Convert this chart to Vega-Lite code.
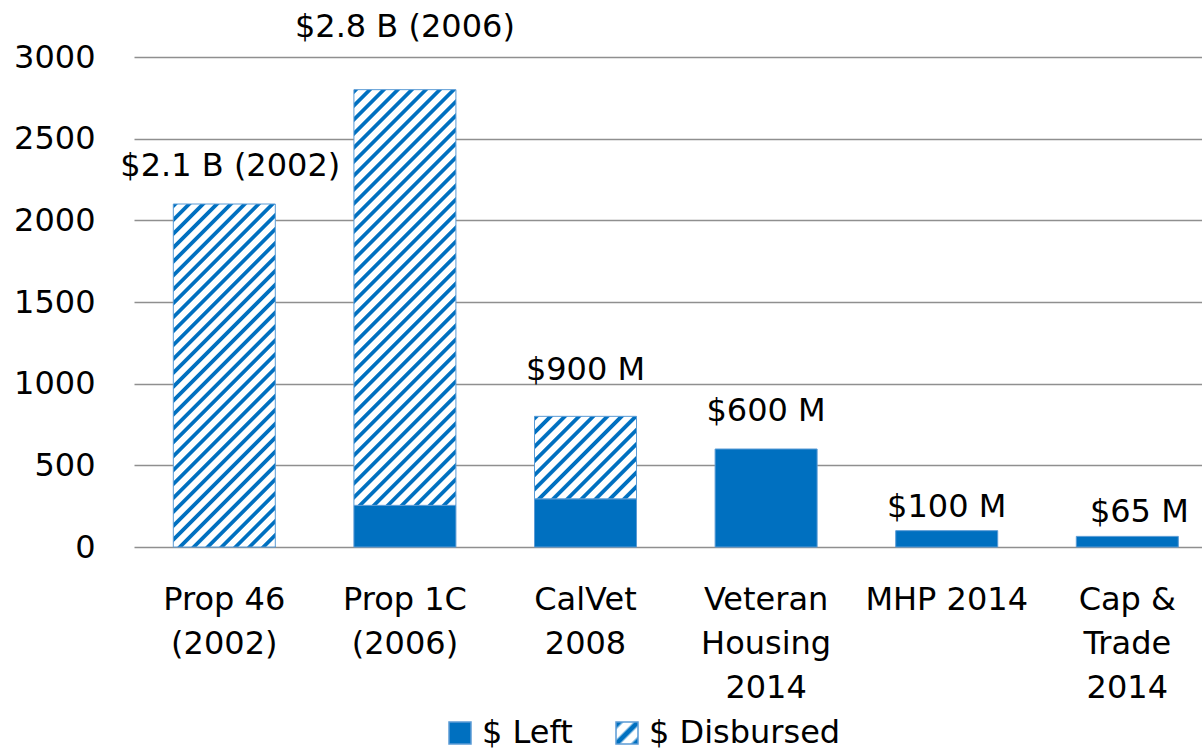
{
  "$schema": "https://vega.github.io/schema/vega-lite/v6.json",
  "width": 1068,
  "height": 490,
  "autosize": {"type": "none"},
  "padding": {"left": 134, "top": 57, "right": 0, "bottom": 205},
  "background": "white",
  "config": {
    "view": {"stroke": null},
    "font": "DejaVu Sans",
    "axisX": {"domain": false, "ticks": false, "grid": false, "labelFontSize": 32, "labelColor": "#000000", "labelFont": "DejaVu Sans", "labelPadding": 37, "labelLineHeight": 44, "labelAngle": 0, "labelLimit": 0},
    "axisY": {"domain": false, "ticks": false, "grid": true, "gridColor": "#8f8f8f", "gridWidth": 1.5, "labelFontSize": 32, "labelColor": "#000000", "labelFont": "DejaVu Sans", "labelPadding": 39},
    "legend": {"orient": "none", "legendX": 310, "legendY": 660, "direction": "horizontal", "padding": 0, "symbolType": "square", "symbolSize": 484, "symbolStrokeWidth": 1.5, "symbolStrokeColor": "#5B9BD5", "labelFontSize": 32, "labelFont": "DejaVu Sans", "labelColor": "#000000", "labelOffset": 6, "columnPadding": 38, "labelLimit": 0}
  },
  "datasets": {
    "bars": [
      {"program": "Prop 46|(2002)", "type": "$ Disbursed", "value": 2100},
      {"program": "Prop 1C|(2006)", "type": "$ Left", "value": 255},
      {"program": "Prop 1C|(2006)", "type": "$ Disbursed", "value": 2545},
      {"program": "CalVet|2008", "type": "$ Left", "value": 295},
      {"program": "CalVet|2008", "type": "$ Disbursed", "value": 505},
      {"program": "Veteran|Housing|2014", "type": "$ Left", "value": 600},
      {"program": "MHP 2014", "type": "$ Left", "value": 100},
      {"program": "Cap &|Trade|2014", "type": "$ Left", "value": 65}
    ],
    "labels": [
      {"program": "Prop 46|(2002)", "total": 2100, "label": "$2.1 B (2002)"},
      {"program": "Prop 1C|(2006)", "total": 2800, "label": "$2.8 B (2006)"},
      {"program": "CalVet|2008", "total": 800, "label": "$900 M"},
      {"program": "Veteran|Housing|2014", "total": 600, "label": "$600 M"},
      {"program": "MHP 2014", "total": 100, "label": "$100 M"},
      {"program": "Cap &|Trade|2014", "total": 65, "label": "$65 M"}
    ]
  },
  "layer": [
    {
      "data": {"name": "bars"},
      "mark": {"type": "bar", "stroke": "#5B9BD5", "strokeWidth": 1},
      "encoding": {
        "x": {"field": "program", "type": "nominal", "title": null,
          "sort": ["Prop 46|(2002)", "Prop 1C|(2006)", "CalVet|2008", "Veteran|Housing|2014", "MHP 2014", "Cap &|Trade|2014"],
          "scale": {"paddingInner": 0.4352, "paddingOuter": 0.1744, "align": 0.624},
          "axis": {"labelExpr": "split(datum.label, '|')"}},
        "y": {"field": "value", "type": "quantitative", "stack": "zero", "title": null,
          "scale": {"domain": [0, 3000], "nice": false},
          "axis": {"values": [0, 500, 1000, 1500, 2000, 2500, 3000], "format": "d"}},
        "order": {"field": "type", "sort": "descending"},
        "fill": {
          "field": "type", "type": "nominal",
          "scale": {"domain": ["$ Left", "$ Disbursed"], "range": ["#0070C0", {"expr": "{gradient: 'linear', x1: 0, y1: 0, x2: 1, y2: 1, stops: [{offset: 0, color: '#0070C0'}, {offset: 0.12, color: '#0070C0'}, {offset: 0.2, color: '#ffffff'}, {offset: 0.38, color: '#ffffff'}, {offset: 0.45, color: '#0070C0'}, {offset: 0.55, color: '#0070C0'}, {offset: 0.62, color: '#ffffff'}, {offset: 0.8, color: '#ffffff'}, {offset: 0.88, color: '#0070C0'}, {offset: 1, color: '#0070C0'}]}"}]},
          "legend": {"title": null},
          "condition": [
            {"test": "datum.type === '$ Disbursed' && datum.program === 'Prop 46|(2002)'",
             "value": {"gradient": "linear", "x1": 0, "y1": 0, "x2": 0.35446, "y2": 1.19197, "stops": [
              {"offset":0,"color":"#0070C0"},{"offset":0.00875,"color":"#0070C0"},{"offset":0.01188,"color":"#ffffff"},{"offset":0.02813,"color":"#ffffff"},
              {"offset":0.03125,"color":"#0070C0"},{"offset":0.04,"color":"#0070C0"},{"offset":0.04313,"color":"#ffffff"},{"offset":0.05938,"color":"#ffffff"},
              {"offset":0.0625,"color":"#0070C0"},{"offset":0.07125,"color":"#0070C0"},{"offset":0.07438,"color":"#ffffff"},{"offset":0.09063,"color":"#ffffff"},
              {"offset":0.09375,"color":"#0070C0"},{"offset":0.1025,"color":"#0070C0"},{"offset":0.10563,"color":"#ffffff"},{"offset":0.12188,"color":"#ffffff"},
              {"offset":0.125,"color":"#0070C0"},{"offset":0.13375,"color":"#0070C0"},{"offset":0.13688,"color":"#ffffff"},{"offset":0.15313,"color":"#ffffff"},
              {"offset":0.15625,"color":"#0070C0"},{"offset":0.165,"color":"#0070C0"},{"offset":0.16813,"color":"#ffffff"},{"offset":0.18438,"color":"#ffffff"},
              {"offset":0.1875,"color":"#0070C0"},{"offset":0.19625,"color":"#0070C0"},{"offset":0.19938,"color":"#ffffff"},{"offset":0.21563,"color":"#ffffff"},
              {"offset":0.21875,"color":"#0070C0"},{"offset":0.2275,"color":"#0070C0"},{"offset":0.23063,"color":"#ffffff"},{"offset":0.24688,"color":"#ffffff"},
              {"offset":0.25,"color":"#0070C0"},{"offset":0.25875,"color":"#0070C0"},{"offset":0.26188,"color":"#ffffff"},{"offset":0.27813,"color":"#ffffff"},
              {"offset":0.28125,"color":"#0070C0"},{"offset":0.29,"color":"#0070C0"},{"offset":0.29313,"color":"#ffffff"},{"offset":0.30938,"color":"#ffffff"},
              {"offset":0.3125,"color":"#0070C0"},{"offset":0.32125,"color":"#0070C0"},{"offset":0.32438,"color":"#ffffff"},{"offset":0.34063,"color":"#ffffff"},
              {"offset":0.34375,"color":"#0070C0"},{"offset":0.3525,"color":"#0070C0"},{"offset":0.35563,"color":"#ffffff"},{"offset":0.37188,"color":"#ffffff"},
              {"offset":0.375,"color":"#0070C0"},{"offset":0.38375,"color":"#0070C0"},{"offset":0.38688,"color":"#ffffff"},{"offset":0.40313,"color":"#ffffff"},
              {"offset":0.40625,"color":"#0070C0"},{"offset":0.415,"color":"#0070C0"},{"offset":0.41813,"color":"#ffffff"},{"offset":0.43438,"color":"#ffffff"},
              {"offset":0.4375,"color":"#0070C0"},{"offset":0.44625,"color":"#0070C0"},{"offset":0.44938,"color":"#ffffff"},{"offset":0.46563,"color":"#ffffff"},
              {"offset":0.46875,"color":"#0070C0"},{"offset":0.4775,"color":"#0070C0"},{"offset":0.48063,"color":"#ffffff"},{"offset":0.49688,"color":"#ffffff"},
              {"offset":0.5,"color":"#0070C0"},{"offset":0.50875,"color":"#0070C0"},{"offset":0.51188,"color":"#ffffff"},{"offset":0.52813,"color":"#ffffff"},
              {"offset":0.53125,"color":"#0070C0"},{"offset":0.54,"color":"#0070C0"},{"offset":0.54313,"color":"#ffffff"},{"offset":0.55938,"color":"#ffffff"},
              {"offset":0.5625,"color":"#0070C0"},{"offset":0.57125,"color":"#0070C0"},{"offset":0.57438,"color":"#ffffff"},{"offset":0.59063,"color":"#ffffff"},
              {"offset":0.59375,"color":"#0070C0"},{"offset":0.6025,"color":"#0070C0"},{"offset":0.60563,"color":"#ffffff"},{"offset":0.62188,"color":"#ffffff"},
              {"offset":0.625,"color":"#0070C0"},{"offset":0.63375,"color":"#0070C0"},{"offset":0.63688,"color":"#ffffff"},{"offset":0.65313,"color":"#ffffff"},
              {"offset":0.65625,"color":"#0070C0"},{"offset":0.665,"color":"#0070C0"},{"offset":0.66813,"color":"#ffffff"},{"offset":0.68438,"color":"#ffffff"},
              {"offset":0.6875,"color":"#0070C0"},{"offset":0.69625,"color":"#0070C0"},{"offset":0.69938,"color":"#ffffff"},{"offset":0.71563,"color":"#ffffff"},
              {"offset":0.71875,"color":"#0070C0"},{"offset":0.7275,"color":"#0070C0"},{"offset":0.73063,"color":"#ffffff"},{"offset":0.74688,"color":"#ffffff"},
              {"offset":0.75,"color":"#0070C0"},{"offset":0.75875,"color":"#0070C0"},{"offset":0.76188,"color":"#ffffff"},{"offset":0.77813,"color":"#ffffff"},
              {"offset":0.78125,"color":"#0070C0"},{"offset":0.79,"color":"#0070C0"},{"offset":0.79313,"color":"#ffffff"},{"offset":0.80938,"color":"#ffffff"},
              {"offset":0.8125,"color":"#0070C0"},{"offset":0.82125,"color":"#0070C0"},{"offset":0.82438,"color":"#ffffff"},{"offset":0.84063,"color":"#ffffff"},
              {"offset":0.84375,"color":"#0070C0"},{"offset":0.8525,"color":"#0070C0"},{"offset":0.85563,"color":"#ffffff"},{"offset":0.87188,"color":"#ffffff"},
              {"offset":0.875,"color":"#0070C0"},{"offset":0.88375,"color":"#0070C0"},{"offset":0.88688,"color":"#ffffff"},{"offset":0.90313,"color":"#ffffff"},
              {"offset":0.90625,"color":"#0070C0"},{"offset":0.915,"color":"#0070C0"},{"offset":0.91813,"color":"#ffffff"},{"offset":0.93438,"color":"#ffffff"},
              {"offset":0.9375,"color":"#0070C0"},{"offset":0.94625,"color":"#0070C0"},{"offset":0.94938,"color":"#ffffff"},{"offset":0.96563,"color":"#ffffff"},
              {"offset":0.96875,"color":"#0070C0"},{"offset":0.9775,"color":"#0070C0"},{"offset":0.98063,"color":"#ffffff"},{"offset":0.99688,"color":"#ffffff"},
              {"offset":1,"color":"#0070C0"}]}},
            {"test": "datum.type === '$ Disbursed' && datum.program === 'Prop 1C|(2006)'",
             "value": {"gradient": "linear", "x1": 0, "y1": 0, "x2": 0.28822, "y2": 1.17465, "stops": [
              {"offset":0,"color":"#0070C0"},{"offset":0.00757,"color":"#0070C0"},{"offset":0.01027,"color":"#ffffff"},{"offset":0.02432,"color":"#ffffff"},
              {"offset":0.02703,"color":"#0070C0"},{"offset":0.0346,"color":"#0070C0"},{"offset":0.0373,"color":"#ffffff"},{"offset":0.05135,"color":"#ffffff"},
              {"offset":0.05405,"color":"#0070C0"},{"offset":0.06162,"color":"#0070C0"},{"offset":0.06432,"color":"#ffffff"},{"offset":0.07837,"color":"#ffffff"},
              {"offset":0.08108,"color":"#0070C0"},{"offset":0.08865,"color":"#0070C0"},{"offset":0.09135,"color":"#ffffff"},{"offset":0.1054,"color":"#ffffff"},
              {"offset":0.10811,"color":"#0070C0"},{"offset":0.11568,"color":"#0070C0"},{"offset":0.11838,"color":"#ffffff"},{"offset":0.13243,"color":"#ffffff"},
              {"offset":0.13514,"color":"#0070C0"},{"offset":0.14271,"color":"#0070C0"},{"offset":0.14541,"color":"#ffffff"},{"offset":0.15946,"color":"#ffffff"},
              {"offset":0.16216,"color":"#0070C0"},{"offset":0.16973,"color":"#0070C0"},{"offset":0.17243,"color":"#ffffff"},{"offset":0.18648,"color":"#ffffff"},
              {"offset":0.18919,"color":"#0070C0"},{"offset":0.19676,"color":"#0070C0"},{"offset":0.19946,"color":"#ffffff"},{"offset":0.21351,"color":"#ffffff"},
              {"offset":0.21622,"color":"#0070C0"},{"offset":0.22379,"color":"#0070C0"},{"offset":0.22649,"color":"#ffffff"},{"offset":0.24054,"color":"#ffffff"},
              {"offset":0.24324,"color":"#0070C0"},{"offset":0.25081,"color":"#0070C0"},{"offset":0.25351,"color":"#ffffff"},{"offset":0.26756,"color":"#ffffff"},
              {"offset":0.27027,"color":"#0070C0"},{"offset":0.27784,"color":"#0070C0"},{"offset":0.28054,"color":"#ffffff"},{"offset":0.29459,"color":"#ffffff"},
              {"offset":0.2973,"color":"#0070C0"},{"offset":0.30487,"color":"#0070C0"},{"offset":0.30757,"color":"#ffffff"},{"offset":0.32162,"color":"#ffffff"},
              {"offset":0.32432,"color":"#0070C0"},{"offset":0.33189,"color":"#0070C0"},{"offset":0.33459,"color":"#ffffff"},{"offset":0.34864,"color":"#ffffff"},
              {"offset":0.35135,"color":"#0070C0"},{"offset":0.35892,"color":"#0070C0"},{"offset":0.36162,"color":"#ffffff"},{"offset":0.37567,"color":"#ffffff"},
              {"offset":0.37838,"color":"#0070C0"},{"offset":0.38595,"color":"#0070C0"},{"offset":0.38865,"color":"#ffffff"},{"offset":0.4027,"color":"#ffffff"},
              {"offset":0.40541,"color":"#0070C0"},{"offset":0.41298,"color":"#0070C0"},{"offset":0.41568,"color":"#ffffff"},{"offset":0.42973,"color":"#ffffff"},
              {"offset":0.43243,"color":"#0070C0"},{"offset":0.44,"color":"#0070C0"},{"offset":0.4427,"color":"#ffffff"},{"offset":0.45675,"color":"#ffffff"},
              {"offset":0.45946,"color":"#0070C0"},{"offset":0.46703,"color":"#0070C0"},{"offset":0.46973,"color":"#ffffff"},{"offset":0.48378,"color":"#ffffff"},
              {"offset":0.48649,"color":"#0070C0"},{"offset":0.49406,"color":"#0070C0"},{"offset":0.49676,"color":"#ffffff"},{"offset":0.51081,"color":"#ffffff"},
              {"offset":0.51351,"color":"#0070C0"},{"offset":0.52108,"color":"#0070C0"},{"offset":0.52378,"color":"#ffffff"},{"offset":0.53783,"color":"#ffffff"},
              {"offset":0.54054,"color":"#0070C0"},{"offset":0.54811,"color":"#0070C0"},{"offset":0.55081,"color":"#ffffff"},{"offset":0.56486,"color":"#ffffff"},
              {"offset":0.56757,"color":"#0070C0"},{"offset":0.57514,"color":"#0070C0"},{"offset":0.57784,"color":"#ffffff"},{"offset":0.59189,"color":"#ffffff"},
              {"offset":0.59459,"color":"#0070C0"},{"offset":0.60216,"color":"#0070C0"},{"offset":0.60486,"color":"#ffffff"},{"offset":0.61891,"color":"#ffffff"},
              {"offset":0.62162,"color":"#0070C0"},{"offset":0.62919,"color":"#0070C0"},{"offset":0.63189,"color":"#ffffff"},{"offset":0.64594,"color":"#ffffff"},
              {"offset":0.64865,"color":"#0070C0"},{"offset":0.65622,"color":"#0070C0"},{"offset":0.65892,"color":"#ffffff"},{"offset":0.67297,"color":"#ffffff"},
              {"offset":0.67568,"color":"#0070C0"},{"offset":0.68325,"color":"#0070C0"},{"offset":0.68595,"color":"#ffffff"},{"offset":0.7,"color":"#ffffff"},
              {"offset":0.7027,"color":"#0070C0"},{"offset":0.71027,"color":"#0070C0"},{"offset":0.71297,"color":"#ffffff"},{"offset":0.72702,"color":"#ffffff"},
              {"offset":0.72973,"color":"#0070C0"},{"offset":0.7373,"color":"#0070C0"},{"offset":0.74,"color":"#ffffff"},{"offset":0.75405,"color":"#ffffff"},
              {"offset":0.75676,"color":"#0070C0"},{"offset":0.76433,"color":"#0070C0"},{"offset":0.76703,"color":"#ffffff"},{"offset":0.78108,"color":"#ffffff"},
              {"offset":0.78378,"color":"#0070C0"},{"offset":0.79135,"color":"#0070C0"},{"offset":0.79405,"color":"#ffffff"},{"offset":0.8081,"color":"#ffffff"},
              {"offset":0.81081,"color":"#0070C0"},{"offset":0.81838,"color":"#0070C0"},{"offset":0.82108,"color":"#ffffff"},{"offset":0.83513,"color":"#ffffff"},
              {"offset":0.83784,"color":"#0070C0"},{"offset":0.84541,"color":"#0070C0"},{"offset":0.84811,"color":"#ffffff"},{"offset":0.86216,"color":"#ffffff"},
              {"offset":0.86486,"color":"#0070C0"},{"offset":0.87243,"color":"#0070C0"},{"offset":0.87513,"color":"#ffffff"},{"offset":0.88918,"color":"#ffffff"},
              {"offset":0.89189,"color":"#0070C0"},{"offset":0.89946,"color":"#0070C0"},{"offset":0.90216,"color":"#ffffff"},{"offset":0.91621,"color":"#ffffff"},
              {"offset":0.91892,"color":"#0070C0"},{"offset":0.92649,"color":"#0070C0"},{"offset":0.92919,"color":"#ffffff"},{"offset":0.94324,"color":"#ffffff"},
              {"offset":0.94595,"color":"#0070C0"},{"offset":0.95352,"color":"#0070C0"},{"offset":0.95622,"color":"#ffffff"},{"offset":0.97027,"color":"#ffffff"},
              {"offset":0.97297,"color":"#0070C0"},{"offset":0.98054,"color":"#0070C0"},{"offset":0.98324,"color":"#ffffff"},{"offset":0.99729,"color":"#ffffff"},
              {"offset":1,"color":"#0070C0"}]}},
            {"test": "datum.type === '$ Disbursed' && datum.program === 'CalVet|2008'",
             "value": {"gradient": "linear", "x1": 0, "y1": 0, "x2": 1.09346, "y2": 0.88442, "stops": [
              {"offset":0,"color":"#0070C0"},{"offset":0.02154,"color":"#0070C0"},{"offset":0.02923,"color":"#ffffff"},{"offset":0.06923,"color":"#ffffff"},
              {"offset":0.07692,"color":"#0070C0"},{"offset":0.09846,"color":"#0070C0"},{"offset":0.10615,"color":"#ffffff"},{"offset":0.14615,"color":"#ffffff"},
              {"offset":0.15385,"color":"#0070C0"},{"offset":0.17539,"color":"#0070C0"},{"offset":0.18308,"color":"#ffffff"},{"offset":0.22308,"color":"#ffffff"},
              {"offset":0.23077,"color":"#0070C0"},{"offset":0.25231,"color":"#0070C0"},{"offset":0.26,"color":"#ffffff"},{"offset":0.3,"color":"#ffffff"},
              {"offset":0.30769,"color":"#0070C0"},{"offset":0.32923,"color":"#0070C0"},{"offset":0.33692,"color":"#ffffff"},{"offset":0.37692,"color":"#ffffff"},
              {"offset":0.38462,"color":"#0070C0"},{"offset":0.40616,"color":"#0070C0"},{"offset":0.41385,"color":"#ffffff"},{"offset":0.45385,"color":"#ffffff"},
              {"offset":0.46154,"color":"#0070C0"},{"offset":0.48308,"color":"#0070C0"},{"offset":0.49077,"color":"#ffffff"},{"offset":0.53077,"color":"#ffffff"},
              {"offset":0.53846,"color":"#0070C0"},{"offset":0.56,"color":"#0070C0"},{"offset":0.56769,"color":"#ffffff"},{"offset":0.60769,"color":"#ffffff"},
              {"offset":0.61538,"color":"#0070C0"},{"offset":0.63692,"color":"#0070C0"},{"offset":0.64461,"color":"#ffffff"},{"offset":0.68461,"color":"#ffffff"},
              {"offset":0.69231,"color":"#0070C0"},{"offset":0.71385,"color":"#0070C0"},{"offset":0.72154,"color":"#ffffff"},{"offset":0.76154,"color":"#ffffff"},
              {"offset":0.76923,"color":"#0070C0"},{"offset":0.79077,"color":"#0070C0"},{"offset":0.79846,"color":"#ffffff"},{"offset":0.83846,"color":"#ffffff"},
              {"offset":0.84615,"color":"#0070C0"},{"offset":0.86769,"color":"#0070C0"},{"offset":0.87538,"color":"#ffffff"},{"offset":0.91538,"color":"#ffffff"},
              {"offset":0.92308,"color":"#0070C0"},{"offset":0.94462,"color":"#0070C0"},{"offset":0.95231,"color":"#ffffff"},{"offset":0.99231,"color":"#ffffff"},
              {"offset":1,"color":"#0070C0"}]}}
          ]
        }
      }
    },
    {
      "data": {"name": "labels"},
      "transform": [{"filter": "datum.program === 'Prop 46|(2002)'"}],
      "mark": {"type": "text", "font": "DejaVu Sans", "fontSize": 32, "color": "#000000", "baseline": "alphabetic", "align": "center", "dy": -28, "dx": 6},
      "encoding": {
        "x": {"field": "program", "type": "nominal", "title": null, "sort": ["Prop 46|(2002)", "Prop 1C|(2006)", "CalVet|2008", "Veteran|Housing|2014", "MHP 2014", "Cap &|Trade|2014"]},
        "y": {"field": "total", "type": "quantitative", "title": null},
        "text": {"field": "label"}
      }
    },
    {
      "data": {"name": "labels"},
      "transform": [{"filter": "datum.program === 'Prop 1C|(2006)'"}],
      "mark": {"type": "text", "font": "DejaVu Sans", "fontSize": 32, "color": "#000000", "baseline": "alphabetic", "align": "center", "dy": -53},
      "encoding": {
        "x": {"field": "program", "type": "nominal", "title": null, "sort": ["Prop 46|(2002)", "Prop 1C|(2006)", "CalVet|2008", "Veteran|Housing|2014", "MHP 2014", "Cap &|Trade|2014"]},
        "y": {"field": "total", "type": "quantitative", "title": null},
        "text": {"field": "label"}
      }
    },
    {
      "data": {"name": "labels"},
      "transform": [{"filter": "datum.program === 'CalVet|2008'"}],
      "mark": {"type": "text", "font": "DejaVu Sans", "fontSize": 32, "color": "#000000", "baseline": "alphabetic", "align": "center", "dy": -36},
      "encoding": {
        "x": {"field": "program", "type": "nominal", "title": null, "sort": ["Prop 46|(2002)", "Prop 1C|(2006)", "CalVet|2008", "Veteran|Housing|2014", "MHP 2014", "Cap &|Trade|2014"]},
        "y": {"field": "total", "type": "quantitative", "title": null},
        "text": {"field": "label"}
      }
    },
    {
      "data": {"name": "labels"},
      "transform": [{"filter": "datum.program === 'Veteran|Housing|2014'"}],
      "mark": {"type": "text", "font": "DejaVu Sans", "fontSize": 32, "color": "#000000", "baseline": "alphabetic", "align": "center", "dy": -28},
      "encoding": {
        "x": {"field": "program", "type": "nominal", "title": null, "sort": ["Prop 46|(2002)", "Prop 1C|(2006)", "CalVet|2008", "Veteran|Housing|2014", "MHP 2014", "Cap &|Trade|2014"]},
        "y": {"field": "total", "type": "quantitative", "title": null},
        "text": {"field": "label"}
      }
    },
    {
      "data": {"name": "labels"},
      "transform": [{"filter": "datum.program === 'MHP 2014'"}],
      "mark": {"type": "text", "font": "DejaVu Sans", "fontSize": 32, "color": "#000000", "baseline": "alphabetic", "align": "center", "dy": -14},
      "encoding": {
        "x": {"field": "program", "type": "nominal", "title": null, "sort": ["Prop 46|(2002)", "Prop 1C|(2006)", "CalVet|2008", "Veteran|Housing|2014", "MHP 2014", "Cap &|Trade|2014"]},
        "y": {"field": "total", "type": "quantitative", "title": null},
        "text": {"field": "label"}
      }
    },
    {
      "data": {"name": "labels"},
      "transform": [{"filter": "datum.program === 'Cap &|Trade|2014'"}],
      "mark": {"type": "text", "font": "DejaVu Sans", "fontSize": 32, "color": "#000000", "baseline": "alphabetic", "align": "center", "dy": -14, "dx": 12},
      "encoding": {
        "x": {"field": "program", "type": "nominal", "title": null, "sort": ["Prop 46|(2002)", "Prop 1C|(2006)", "CalVet|2008", "Veteran|Housing|2014", "MHP 2014", "Cap &|Trade|2014"]},
        "y": {"field": "total", "type": "quantitative", "title": null},
        "text": {"field": "label"}
      }
    }
  ]
}
